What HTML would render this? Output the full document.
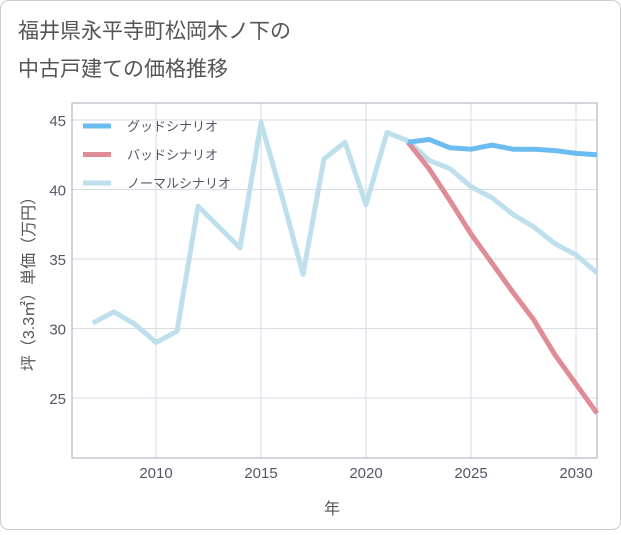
<!DOCTYPE html>
<html><head><meta charset="utf-8"><style>
body{margin:0;background:#fff;}
svg text{font-family:"Liberation Sans","Noto Sans CJK JP",sans-serif;}
</style></head><body>
<svg width="621" height="530">
<rect x="0.5" y="0.5" width="620" height="529" rx="8" fill="#fff" stroke="#ccc"/>
<text x="18" y="38" font-size="21" fill="#555">福井県永平寺町松岡木ノ下の</text>
<text x="18" y="76" font-size="21" fill="#555">中古戸建ての価格推移</text>
<g id="grid"></g>
<rect x="72" y="103" width="525" height="355" fill="none" stroke="#aab"/>
<g id="series"></g>
<g id="legend"></g>
<text x="332" y="514" font-size="16" fill="#555" text-anchor="middle">年</text>
<text transform="translate(34,280) rotate(-90)" font-size="16" fill="#555" text-anchor="middle">坪（3.3㎡）単価（万円）</text>
</svg>
<script>
const years=[2007,2008,2009,2010,2011,2012,2013,2014,2015,2016,2017,2018,2019,2020,2021,2022,2023,2024,2025,2026,2027,2028,2029,2030,2031];
const normal=[30.4,31.2,30.3,29.0,29.8,38.8,37.3,35.8,44.8,39.5,33.9,42.2,43.4,38.9,44.1,43.5,42.1,41.5,40.2,39.4,38.2,37.3,36.1,35.3,34.0];
const futureYears=[2022,2023,2024,2025,2026,2027,2028,2029,2030,2031];
const good=[43.4,43.6,43.0,42.9,43.2,42.9,42.9,42.8,42.6,42.5];
const bad=[43.4,41.5,39.2,36.8,34.7,32.6,30.6,28.1,26.0,23.9];
const xTicks=[2010,2015,2020,2025,2030];
const yTicks=[25,30,35,40,45];
const NS='http://www.w3.org/2000/svg';
const X=y=>156+(y-2010)*21;
const Y=v=>120+(45-v)*13.9;
function mk(t,a,p){const e=document.createElementNS(NS,t);for(const k in a)e.setAttribute(k,a[k]);p.appendChild(e);return e;}
const grid=document.getElementById('grid');
for(const t of xTicks){
 const l=mk('line',{x1:X(t),x2:X(t),y1:103,y2:458,stroke:'#d5dde5'},grid);
 
 
 const tx=mk('text',{x:X(t),y:478,'font-size':15,fill:'#556','text-anchor':'middle'},grid);tx.textContent=t;
 
 
}
for(const t of yTicks){
 const l=mk('line',{x1:72,x2:597,y1:Y(t),y2:Y(t),stroke:'#d5dde5'},grid);
 
 
 const tx=mk('text',{x:66,y:Y(t)+6,'font-size':15,fill:'#556','text-anchor':'end'},grid);tx.textContent=t;
 
 
}
const s=document.getElementById('series');
function line(xs,vs,c,name){
 const p=mk('polyline',{points:xs.map((x,i)=>X(x)+','+Y(vs[i])).join(' '),fill:'none',stroke:c,'stroke-width':5,'stroke-linejoin':'round'},s);
 
 
}
line(years,normal,'#bde0ec','normal-scenario-line');
line(futureYears,bad,'#e08c96','bad-scenario-line');
line(futureYears,good,'#6bbcf0','good-scenario-line');
const lg=document.getElementById('legend');
const items=[['グッドシナリオ','#6bbcf0'],['バッドシナリオ','#e08c96'],['ノーマルシナリオ','#bde0ec']];
items.forEach((it,i)=>{
 const y=126+i*28.5;
 const l=mk('line',{x1:83,x2:111,y1:y,y2:y,stroke:it[1],'stroke-width':5},lg);
 
 
 const t=mk('text',{x:127,y:y+5,'font-size':13,fill:'#556'},lg);t.textContent=it[0];
 
 
});
</script>
</body></html>
